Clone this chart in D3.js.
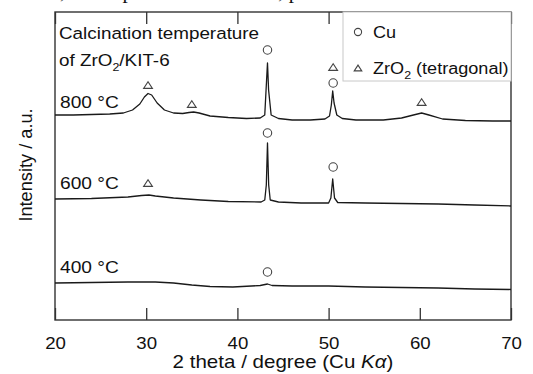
<!DOCTYPE html>
<html>
<head>
<meta charset="utf-8">
<script src="https://cdn.jsdelivr.net/npm/d3@7"></script>
<style>
  body { margin: 0; background: #fff; }
  svg { display: block; font-family: "Liberation Sans", Arial, sans-serif; }
</style>
</head>
<body>
<div id="chart"></div>
<script>
// XRD patterns, 2 theta (deg) vs intensity (a.u.)
const xTicks = [20, 30, 40, 50, 60, 70];

const pattern800 = [
  [20, 5], [22, 5], [24, 5.5], [26, 6], [27.5, 7], [28.5, 10], [29.3, 16], [29.8, 23],
  [30.2, 26.5], [30.6, 25], [31.2, 17], [32, 10], [33, 7], [34, 6.5], [34.7, 7.5],
  [35.2, 8], [35.8, 7], [37, 4], [39, 2.5], [41, 1.5], [42.5, 2], [43.0, 5], [43.2, 40],
  [43.3, 57], [43.42, 30], [43.7, 5], [44.5, 1.5], [46, 0], [48, 0], [49.6, 1], [50.1, 4],
  [50.3, 15], [50.45, 29], [50.6, 17], [50.9, 5], [51.5, 1.5], [53, 0], [56, 0], [58, 2],
  [59.3, 5], [60.2, 7], [61, 5], [62.5, 1], [65, -0.5], [68, -1], [70, -1]
];
const pattern600 = [
  [20, 6], [24, 6.5], [28, 8], [29.5, 9.5], [30.3, 10], [31, 9], [33, 7], [36, 5],
  [39, 3.5], [42.6, 3], [43.0, 5], [43.17, 20], [43.3, 62], [43.43, 20], [43.6, 5],
  [44.5, 3], [47, 2], [50.0, 2], [50.25, 7], [50.45, 26], [50.65, 7], [51, 2.5], [54, 2],
  [58, 1.5], [62, 1], [66, 0], [70, -1]
];
const pattern400 = [
  [20, 7], [24, 7.5], [28, 8], [31, 8], [33, 7], [35, 5], [37, 3.5], [39.5, 3],
  [42.5, 4.5], [43.3, 6], [43.8, 4.5], [46, 4], [50, 4], [54, 3], [58, 2.5], [62, 2],
  [66, 1], [70, 0.5]
];

const seriesNames = ['800 °C', '600 °C', '400 °C'];
const seriesData = [pattern800, pattern600, pattern400];
const seriesOffset = [200, 115, 30];

// phase markers: [2 theta, intensity incl. offset, type]
const markers = [
  [30.2, 235, 'tri'], [35.0, 216, 'tri'], [43.3, 270, 'circ'], [50.5, 253, 'tri'],
  [50.5, 237, 'circ'], [60.2, 218, 'tri'],
  [30.2, 137, 'tri'], [43.3, 187, 'circ'], [50.5, 153, 'circ'],
  [43.3, 48, 'circ']
];

const width = 533, height = 374;
const margin = { top: 12, right: 22, bottom: 54, left: 55 };
const stretch = 1.13; // the source figure is a bit wider than tall

const svg = d3.select('#chart').append('svg')
  .attr('width', width)
  .attr('height', height);

// cropped caption line from the page above
svg.append('text')
  .attr('x', 60).attr('y', -2)
  .style('font-family', '"Liberation Serif", "Times New Roman", serif')
  .style('font-size', '21px')
  .attr('fill', '#111')
  .text(', at temperature of 250 °C, pressure of 1 MPa');

const x = d3.scaleLinear().domain([20, 70]).range([margin.left, width - margin.right]);
const y = d3.scaleLinear().domain([0, 308]).range([height - margin.bottom, margin.top]);

const plotH = height - margin.bottom - margin.top;

function label(parent, px, py, size) {
  return parent.append('text')
    .attr('transform', 'translate(' + px + ',' + py + ') scale(' + stretch + ',1)')
    .style('font-size', size + 'px')
    .attr('fill', '#111');
}

// bottom axis, ticks pointing inward
const xAxis = svg.append('g')
  .attr('transform', 'translate(0,' + (height - margin.bottom) + ')')
  .call(d3.axisBottom(x).tickValues(xTicks).tickSizeInner(-12).tickSizeOuter(0).tickPadding(17));
xAxis.select('.domain').remove();
xAxis.selectAll('line').attr('stroke', '#333').attr('stroke-width', 1.3);
xAxis.selectAll('text')
  .attr('transform', 'scale(' + stretch + ',1)')
  .style('font-size', '16.5px')
  .attr('fill', '#111');

const topAxis = svg.append('g')
  .attr('transform', 'translate(0,' + margin.top + ')')
  .call(d3.axisTop(x).tickValues(xTicks).tickSizeInner(-12).tickSizeOuter(0).tickFormat(''));
topAxis.select('.domain').remove();
topAxis.selectAll('line').attr('stroke', '#333').attr('stroke-width', 1.3);

// frame
svg.append('rect')
  .attr('x', margin.left).attr('y', margin.top)
  .attr('width', x(70) - x(20)).attr('height', plotH)
  .attr('fill', 'none')
  .attr('stroke', '#333')
  .attr('stroke-width', 1.4);

// curves
const line = d3.line()
  .x(d => x(d[0]))
  .y(d => y(d[1]));

seriesData.forEach((data, i) => {
  svg.append('path')
    .datum(data.map(d => [d[0], d[1] + seriesOffset[i]]))
    .attr('d', line)
    .attr('fill', 'none')
    .attr('stroke', '#1a1a1a')
    .attr('stroke-width', 1.3)
    .attr('stroke-linejoin', 'round');
});

// series labels
const labelY = [108, 189, 273];
seriesNames.forEach((name, i) => {
  label(svg, 60, labelY[i], 17).text(name);
});

// title in the plot
label(svg, 59, 39, 16.7).text('Calcination temperature');
const t2 = label(svg, 59, 66, 16.7);
t2.append('tspan').text('of ZrO');
t2.append('tspan').attr('dy', 5).style('font-size', '11px').text('2');
t2.append('tspan').attr('dy', -5).text('/KIT-6');

function drawMarker(g, cx, cy, type, s) {
  if (type === 'circ') {
    g.append('circle')
      .attr('cx', cx).attr('cy', cy).attr('r', s)
      .attr('fill', '#fff').attr('stroke', '#444').attr('stroke-width', 1.1);
  } else {
    const h = s * 1.6;
    g.append('path')
      .attr('d', d3.line()([[cx - s * 1.05, cy + h / 2], [cx + s * 1.05, cy + h / 2], [cx, cy - h / 2]]) + 'Z')
      .attr('fill', '#fff').attr('stroke', '#444').attr('stroke-width', 1.1);
  }
}

const markG = svg.append('g');
markers.forEach(m => drawMarker(markG, x(m[0]), y(m[1]), m[2], 4.2));

// legend
const legend = svg.append('g');
legend.append('rect')
  .attr('x', 343).attr('y', margin.top)
  .attr('width', x(70) - 343).attr('height', 69)
  .attr('fill', '#fff')
  .attr('stroke', '#c8c8c8')
  .attr('stroke-width', 1);
drawMarker(legend, 358, 32, 'circ', 3.6);
drawMarker(legend, 358, 68, 'tri', 3.6);
label(legend, 373, 38, 16).text('Cu');
const lt = label(legend, 373, 74, 16);
lt.append('tspan').text('ZrO');
lt.append('tspan').attr('dy', 5).style('font-size', '11px').text('2');
lt.append('tspan').attr('dy', -5).text(' (tetragonal)');

// axis titles
const xt = label(svg, (x(20) + x(70)) / 2, 368, 18.2)
  .attr('text-anchor', 'middle');
xt.append('tspan').text('2 theta / degree (Cu ');
xt.append('tspan').style('font-style', 'italic').text('Kα');
xt.append('tspan').text(')');

svg.append('text')
  .attr('transform', 'translate(32,' + 165 + ') rotate(-90)')
  .attr('text-anchor', 'middle')
  .style('font-size', '18.2px')
  .attr('fill', '#111')
  .text('Intensity / a.u.');
</script>
</body>
</html>
